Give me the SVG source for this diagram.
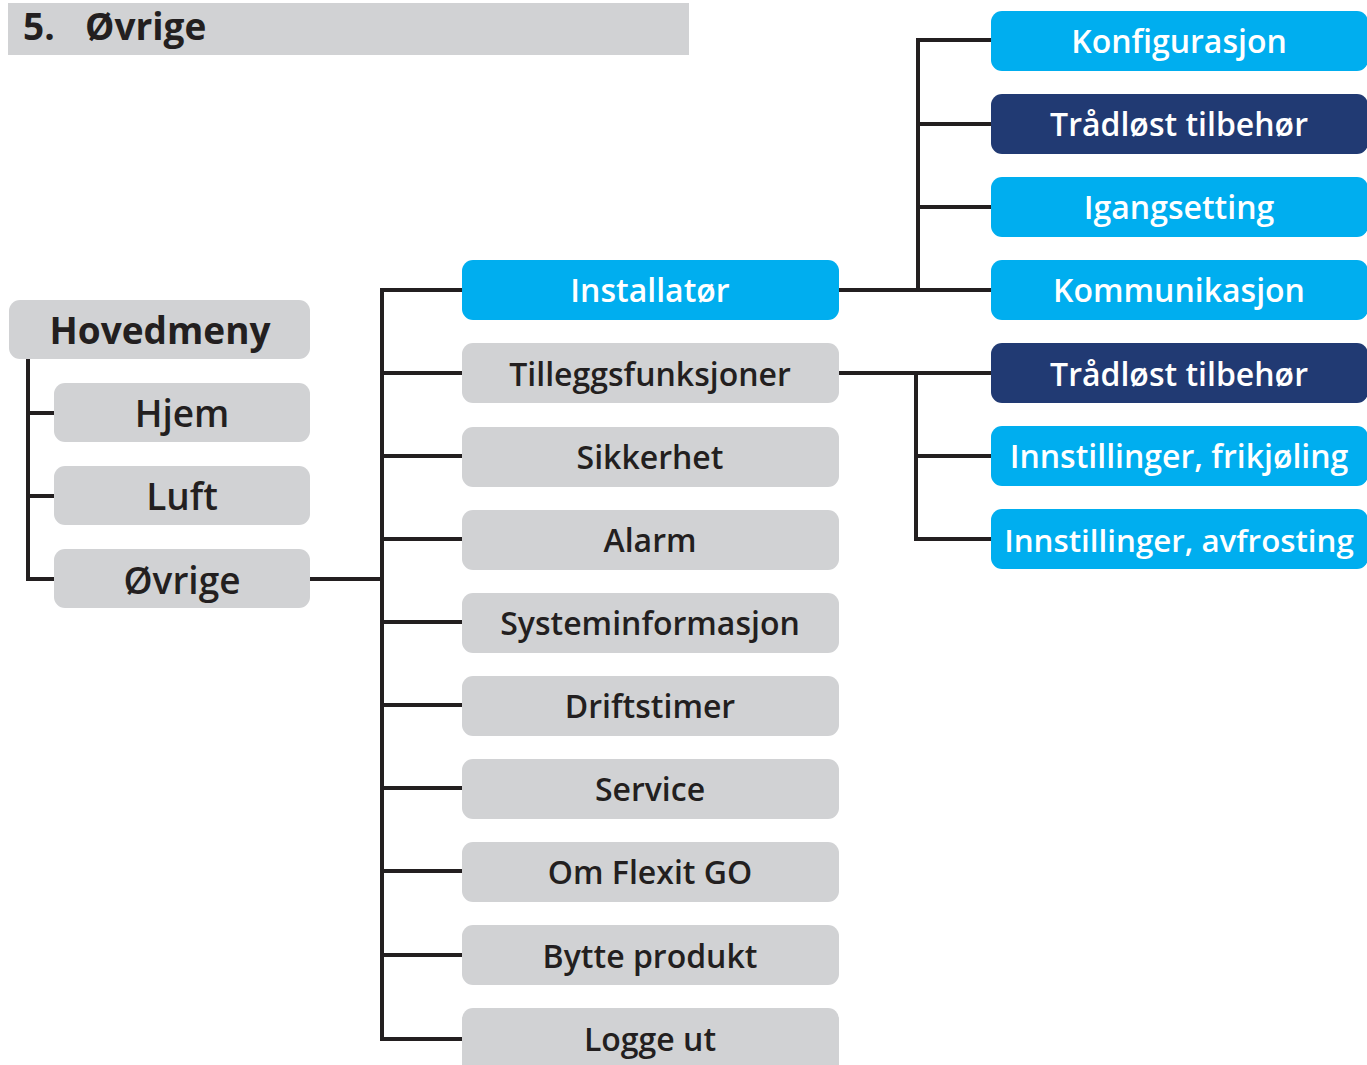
<svg xmlns="http://www.w3.org/2000/svg" width="1367" height="1065" viewBox="0 0 1367 1065">
<style>
.g{fill:#d1d2d4}
.b{fill:#00aeef}
.n{fill:#213a73}
.t{font-family:"Open Sans","Noto Sans",sans-serif;font-weight:600;font-size:32px;text-anchor:middle;fill:#231f20}
.w{fill:#ffffff}
.c{fill:none;stroke:#231f20;stroke-width:4}
.h{font-family:"Open Sans","Noto Sans",sans-serif;font-weight:700;font-size:37px;fill:#231f20}
</style>
<rect x="8" y="3" width="681" height="52" fill="#d1d2d4"/>
<text class="h" x="23" y="40">5.</text>
<text class="h" x="85" y="40">Øvrige</text>
<g id="connectors">
<path class="c" d="M28 359V579M26 413H54M26 496H54M26 579H54"/>
<path class="c" d="M310 579H382M382 288V1041M380 290H462M380 373H462M380 456H462M380 539H462M380 622H462M380 705H462M380 788H462M380 871H462M380 955H462M380 1039H462"/>
<path class="c" d="M839 290H991M918 38V292M916 40H991M916 124H991M916 207H991"/>
<path class="c" d="M839 373H991M916 371V541M914 456H991M914 539H991"/>
</g>
<g id="hovedmeny"><rect class="g" x="9" y="300" width="301" height="59" rx="11"/><text class="t" x="160" y="344" style="font-weight:700;font-size:37px">Hovedmeny</text></g>
<g id="hjem"><rect class="g" x="54" y="383" width="256" height="59" rx="11"/><text class="t" x="182" y="427" style="font-size:37px">Hjem</text></g>
<g id="luft"><rect class="g" x="54" y="466" width="256" height="59" rx="11"/><text class="t" x="182" y="510" style="font-size:37px">Luft</text></g>
<g id="ovrige"><rect class="g" x="54" y="549" width="256" height="59" rx="11"/><text class="t" x="182" y="594" style="font-size:37px">Øvrige</text></g>
<g id="installator"><rect class="b" x="462" y="260" width="377" height="60" rx="11"/><text class="t w" x="650" y="302">Installatør</text></g>
<g id="tillegg"><rect class="g" x="462" y="343" width="377" height="60" rx="11"/><text class="t" x="650" y="386">Tilleggsfunksjoner</text></g>
<g id="sikkerhet"><rect class="g" x="462" y="427" width="377" height="60" rx="11"/><text class="t" x="650" y="469">Sikkerhet</text></g>
<g id="alarm"><rect class="g" x="462" y="510" width="377" height="60" rx="11"/><text class="t" x="650" y="552">Alarm</text></g>
<g id="systeminfo"><rect class="g" x="462" y="593" width="377" height="60" rx="11"/><text class="t" x="650" y="635">Systeminformasjon</text></g>
<g id="driftstimer"><rect class="g" x="462" y="676" width="377" height="60" rx="11"/><text class="t" x="650" y="718">Driftstimer</text></g>
<g id="service"><rect class="g" x="462" y="759" width="377" height="60" rx="11"/><text class="t" x="650" y="801">Service</text></g>
<g id="omflexit"><rect class="g" x="462" y="842" width="377" height="60" rx="11"/><text class="t" x="650" y="884">Om Flexit GO</text></g>
<g id="bytte"><rect class="g" x="462" y="925" width="377" height="60" rx="11"/><text class="t" x="650" y="968">Bytte produkt</text></g>
<g id="logge"><rect class="g" x="462" y="1008" width="377" height="70" rx="11"/><text class="t" x="650" y="1051">Logge ut</text></g>
<g id="konfig"><rect class="b" x="991" y="11" width="377" height="60" rx="11"/><text class="t w" x="1179" y="53">Konfigurasjon</text></g>
<g id="tradlost1"><rect class="n" x="991" y="94" width="377" height="60" rx="11"/><text class="t w" x="1179" y="136">Trådløst tilbehør</text></g>
<g id="igang"><rect class="b" x="991" y="177" width="377" height="60" rx="11"/><text class="t w" x="1179" y="219">Igangsetting</text></g>
<g id="kommunikasjon"><rect class="b" x="991" y="260" width="377" height="60" rx="11"/><text class="t w" x="1179" y="302">Kommunikasjon</text></g>
<g id="tradlost2"><rect class="n" x="991" y="343" width="377" height="60" rx="11"/><text class="t w" x="1179" y="386">Trådløst tilbehør</text></g>
<g id="frikjoling"><rect class="b" x="991" y="426" width="377" height="60" rx="11"/><text class="t w" x="1179" y="468">Innstillinger, frikjøling</text></g>
<g id="avfrosting"><rect class="b" x="991" y="509" width="377" height="60" rx="11"/><text class="t w" x="1179" y="552" style="font-size:31.3px">Innstillinger, avfrosting</text></g>
</svg>
